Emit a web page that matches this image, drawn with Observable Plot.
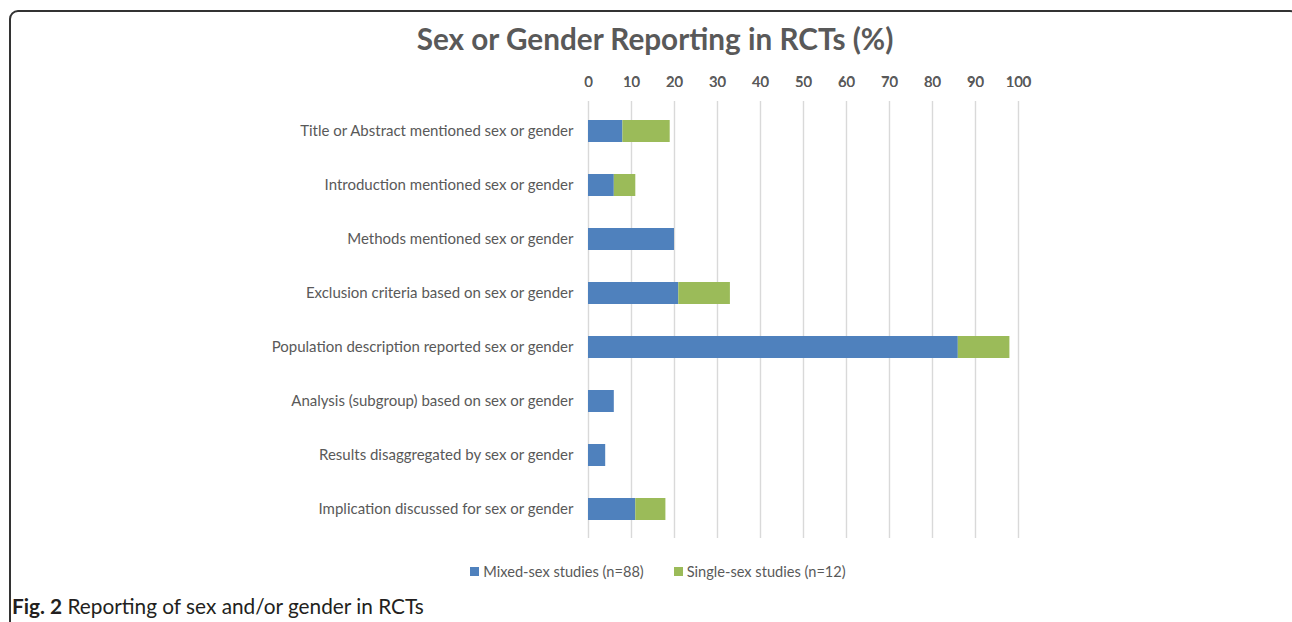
<!DOCTYPE html>
<html>
<head>
<meta charset="utf-8">
<script src="https://cdn.jsdelivr.net/npm/d3@7"></script>
<script src="https://cdn.jsdelivr.net/npm/@observablehq/plot@0.6"></script>
<style>
  html, body { margin: 0; padding: 0; background: #fff; }
  body { width: 1292px; height: 622px; position: relative; overflow: hidden; font-family: Lato, "Open Sans", sans-serif; }
  #frame { position: absolute; left: 9px; top: 10px; width: 1290px; height: 700px; border: 2px solid #333; border-radius: 9px; box-sizing: border-box; }
  #title { position: absolute; left: 0; width: 1310px; top: 21px; text-align: center; font-size: 29.7px; font-weight: bold; color: #595959; }
  #chart { position: absolute; left: 0; top: 0; }
  #legend { position: absolute; left: 0; width: 1316px; top: 563px; display: flex; justify-content: center; gap: 30px; font-size: 14.6px; color: #595959; }
  #legend span.item { display: flex; align-items: center; gap: 4px; }
  #legend span.sw { display: inline-block; width: 9px; height: 9px; }
  #caption { position: absolute; left: 12px; top: 593px; font-size: 20.8px; color: #231f20; }
  svg text { font-weight: 400; }
</style>
</head>
<body>
<div id="frame"></div>
<div id="chart"></div>
<div id="title">Sex or Gender Reporting in RCTs (%)</div>
<div id="legend"></div>
<div id="caption"><b>Fig. 2</b> Reporting of sex and/or gender in RCTs</div>
<script>
const categories = [
  "Title or Abstract mentioned sex or gender",
  "Introduction mentioned sex or gender",
  "Methods mentioned sex or gender",
  "Exclusion criteria based on sex or gender",
  "Population description reported sex or gender",
  "Analysis (subgroup) based on sex or gender",
  "Results disaggregated by sex or gender",
  "Implication discussed for sex or gender"
];
const seriesNames = ["Mixed-sex studies (n=88)", "Single-sex studies (n=12)"];
const mixedSex = [8, 6, 20, 21, 86, 6, 4, 11];
const singleSex = [11, 5, 0, 12, 12, 0, 0, 7];
const xTicks = [0, 10, 20, 30, 40, 50, 60, 70, 80, 90, 100];
const colors = ["#4f81bd", "#9bbb59"];

const rows = [];
categories.forEach((c, i) => {
  rows.push({category: c, series: seriesNames[0], value: mixedSex[i]});
  rows.push({category: c, series: seriesNames[1], value: singleSex[i]});
});

const plot = Plot.plot({
  width: 1292,
  height: 545,
  marginLeft: 588,
  marginRight: 274,
  marginTop: 101,
  marginBottom: 7,
  style: {fontFamily: "Lato, 'Open Sans', sans-serif", fontSize: "15px", color: "#595959", background: "transparent"},
  x: {domain: [0, 100], ticks: xTicks, axis: "top", tickSize: 0, tickPadding: 15, label: null},
  y: {domain: categories, paddingInner: 0.6, paddingOuter: 0.3, tickSize: 0, tickPadding: 15, label: null},
  color: {domain: seriesNames, range: colors},
  marks: [
    Plot.ruleX(xTicks, {stroke: "#d9d9d9", strokeWidth: 1.4}),
    Plot.barX(rows, Plot.stackX({y: "category", x: "value", fill: "series", order: seriesNames})),
    Plot.axisX({anchor: "top", ticks: xTicks, tickSize: 0, tickPadding: 15, fontSize: 14, label: null}),
    Plot.axisY({tickSize: 0, tickPadding: 15, fontSize: 15, label: null})
  ]
});
document.getElementById("chart").appendChild(plot);

const legend = document.getElementById("legend");
seriesNames.forEach((s, i) => {
  const item = document.createElement("span");
  item.className = "item";
  const sw = document.createElement("span");
  sw.className = "sw";
  sw.style.background = colors[i];
  item.appendChild(sw);
  item.appendChild(document.createTextNode(s));
  legend.appendChild(item);
});
</script>
</body>
</html>
